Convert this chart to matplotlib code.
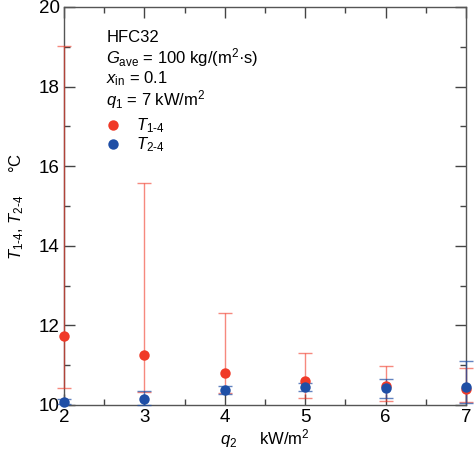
import numpy as np
import matplotlib
matplotlib.use("Agg")
import matplotlib.pyplot as plt
from matplotlib.ticker import MultipleLocator

# ---------------------------- data ----------------------------
q2 = [2, 3, 4, 5, 6, 7]

T14 = [11.73, 11.26, 10.80, 10.60, 10.48, 10.40]
T14_hi = [19.02, 15.58, 12.31, 11.31, 10.99, 10.93]
T14_lo = [10.43, 10.33, 10.30, 10.18, 10.10, 10.07]

T24 = [10.08, 10.15, 10.38, 10.44, 10.42, 10.45]
T24_hi = [10.15, 10.35, 10.48, 10.54, 10.65, 11.10]
T24_lo = [10.02, 10.00, 10.27, 10.34, 10.18, 10.04]

red = '#f03a28'
blue = '#1f4fa6'

plt.rcParams['font.family'] = ['Liberation Sans', 'DejaVu Sans']
plt.rcParams['mathtext.fontset'] = 'custom'
plt.rcParams['mathtext.rm'] = 'Liberation Sans'
plt.rcParams['mathtext.it'] = 'Liberation Sans:italic'

fig = plt.figure(figsize=(4.74, 4.54), dpi=100)
ax = fig.add_axes([0.135, 0.108, 0.848, 0.8766])

err14 = [np.array(T14) - np.array(T14_lo), np.array(T14_hi) - np.array(T14)]
err24 = [np.array(T24) - np.array(T24_lo), np.array(T24_hi) - np.array(T24)]

e1 = ax.errorbar(q2, T14, yerr=err14, fmt='none', ecolor=red, alpha=0.6,
                 elinewidth=1.0, capsize=5, capthick=1.0, zorder=3)
e2 = ax.errorbar(q2, T24, yerr=err24, fmt='none', ecolor=blue, alpha=0.7,
                 elinewidth=1.0, capsize=5, capthick=1.0, zorder=3)
for e in (e1, e2):
    for art in e.get_children():
        art.set_clip_on(False)

ax.plot(q2, T14, 'o', color=red, ms=7.5, mec='none', clip_on=False, zorder=4)
ax.plot(q2, T24, 'o', color=blue, ms=7.5, mec='none', clip_on=False, zorder=5)

ax.set_xlim(2, 7)
ax.set_ylim(10, 20)
ax.xaxis.set_major_locator(MultipleLocator(1))
ax.xaxis.set_minor_locator(MultipleLocator(0.5))
ax.yaxis.set_major_locator(MultipleLocator(2))
ax.yaxis.set_minor_locator(MultipleLocator(1))
ax.tick_params(which='both', direction='in', top=True, right=True,
               color='#444444', labelsize=13.5)
ax.tick_params(which='major', length=8, width=1, pad=3)
ax.tick_params(which='minor', length=4, width=1)
for s in ax.spines.values():
    s.set_color('#555555')
    s.set_linewidth(1.0)

ax.set_xlabel(r'$q_2$     kW/m$^2$', fontsize=12, labelpad=1)
ax.set_ylabel(r'$T_{\text{1-4}}$, $T_{\text{2-4}}$     °C', fontsize=12, labelpad=9)

# annotation block
txt = ['HFC32',
       r'$G_{\mathrm{ave}}$ = 100 kg/(m$^2$·s)',
       r'$x_{\mathrm{in}}$ = 0.1',
       r'$q_1$ = 7 kW/m$^2$']
for i, t in enumerate(txt):
    ax.text(0.105, 0.924 - i * 0.052, t, transform=ax.transAxes, fontsize=12,
            va='center', ha='left')

ax.plot([0.122], [0.703], 'o', color=red, ms=7.5, mec='none', transform=ax.transAxes)
ax.plot([0.122], [0.655], 'o', color=blue, ms=7.5, mec='none', transform=ax.transAxes)
ax.text(0.178, 0.703, r'$T_{\text{1-4}}$', transform=ax.transAxes, fontsize=12, va='center')
ax.text(0.178, 0.655, r'$T_{\text{2-4}}$', transform=ax.transAxes, fontsize=12, va='center')

plt.savefig('out.png', dpi=100)
